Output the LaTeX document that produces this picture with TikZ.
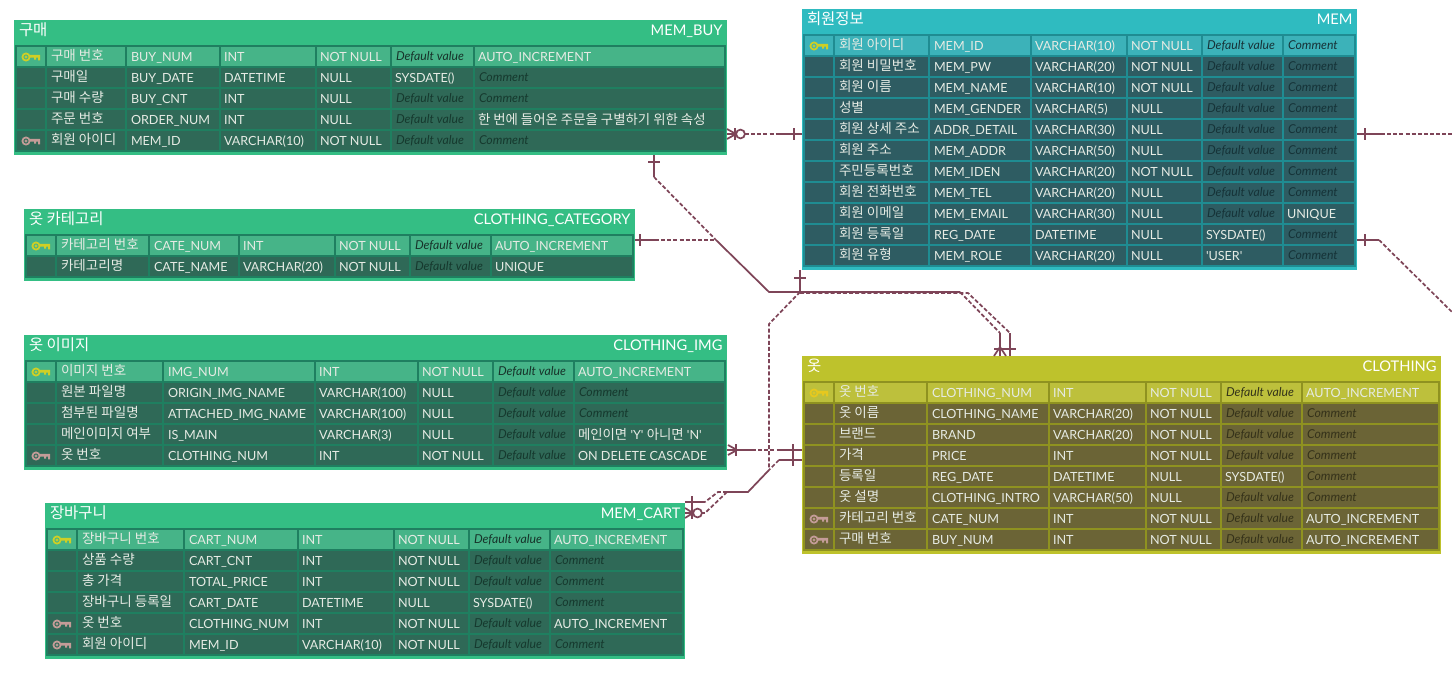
\documentclass[tikz,border=0pt]{standalone}
\usepackage{fontspec}
\setmainfont{Lato}
\newfontfamily\kr{Noto Sans CJK KR}
\usetikzlibrary{calc}
\definecolor{rel}{HTML}{7E4558}
\newcounter{cellno}
\newcommand{\krc}{\kr\fontsize{10.05}{11}\selectfont}
\tikzset{
  celltxt/.style={inner sep=0pt,outer sep=0pt,anchor=base west,text=celltext,font=\fontsize{9.45}{11}\selectfont},
  krtxt/.style={inner sep=0pt,outer sep=0pt,anchor=base west,text=celltext,font=\kr\fontsize{10.15}{11}\selectfont},
  hint/.style={inner sep=0pt,outer sep=0pt,anchor=base west,font=\itshape\fontsize{9.2}{11}\selectfont},
  titleL/.style={inner sep=0pt,outer sep=0pt,anchor=base west,text=white,font=\kr\fontsize{11.6}{12}\selectfont},
  titleR/.style={inner sep=0pt,outer sep=0pt,anchor=base east,text=white,font=\fontsize{11}{12}\selectfont},
  rl/.style={draw=rel,line width=1.3pt},
  rd/.style={draw=rel,line width=1.3pt,dash pattern=on 3pt off 1.6pt},
}
% palette: title, gridline, row, pk row, hint text
\newcommand{\palette}[5]{%
  \definecolor{ctitle}{HTML}{#1}\definecolor{cgrid}{HTML}{#2}\definecolor{crow}{HTML}{#3}%
  \definecolor{cpk}{HTML}{#4}\definecolor{chint}{HTML}{#5}\definecolor{celltext}{HTML}{E6EBE4}}
% outer table: name, x0, y0, x1, y1, korean title, physical title
\newcommand{\etable}[7]{%
  \fill[ctitle] (#2,#3) rectangle (#4,#5);
  \path (#2,#3) -- (#4,#5) node[midway,inner sep=0pt,outer sep=0pt,minimum width=#4*0.75pt-#2*0.75pt,minimum height=#5*0.75pt-#3*0.75pt] (#1) {};
  \node[titleL] (#1title) at (#2+5,#3+15) {#6};
  \node[titleR] (#1phys) at (#4-4.5,#3+15) {#7};
}
\newcommand{\setcols}[8]{\def\La{#1}\def\Lb{#2}\def\Lc{#3}\def\Ld{#4}\def\Le{#5}\def\Lf{#6}\def\Lg{#7}\def\Lend{#8}}
\newcommand{\cellbg}[4]{\fill[#1] (#2,#4-9.5) rectangle (#3,#4+9.5);}
\newcommand{\keyicon}[3]{% x,y,color
  \begin{scope}[shift={(#1,#2)}]
    \draw[#3,line width=1.3pt] (-4,0) circle[radius=2.7pt];
    \draw[#3,line width=.5pt] (-4,0) circle[radius=.9pt];
    \fill[#3] (0,-2.2) -- (10,-2.2) -- (10,3.4) -- (8,3.4) -- (8,0.6) -- (6,0.6) -- (6,2.6) -- (4,2.6) -- (4,0.6) -- (0,0.6) -- cycle;
  \end{scope}}
% y, key(0 none, 1 pk, 2 fk), name, phys, type, null, default, comment
\newcommand{\erow}[8]{%
  \ifnum#2=1 \colorlet{cur}{cpk}\else\colorlet{cur}{crow}\fi
  \fill[cgrid] (\La-2,#1-11.5) rectangle (\Lend+2,#1+11.5);
  \pgfmathsetmacro\RA{\Lb-2}\pgfmathsetmacro\RB{\Lc-2}\pgfmathsetmacro\RC{\Ld-2}\pgfmathsetmacro\RD{\Le-2}\pgfmathsetmacro\RE{\Lf-2}\pgfmathsetmacro\RF{\Lg-2}
  \cellbg{cur}{\La}{\RA}{#1}\cellbg{cur}{\Lb}{\RB}{#1}\cellbg{cur}{\Lc}{\RC}{#1}\cellbg{cur}{\Ld}{\RD}{#1}\cellbg{cur}{\Le}{\RE}{#1}\cellbg{cur}{\Lf}{\RF}{#1}\cellbg{cur}{\Lg}{\Lend}{#1}
  \ifnum#2=1 \keyicon{\La+13}{#1+.5}{keypk}\fi
  \ifnum#2=2 \keyicon{\La+13}{#1+.5}{keyfk}\fi
  \stepcounter{cellno}\node[krtxt] (cell\thecellno) at (\Lb+4,#1+3.5) {#3};
  \stepcounter{cellno}\node[celltxt] (cell\thecellno) at (\Lc+4,#1+4.5) {#4};
  \stepcounter{cellno}\node[celltxt] (cell\thecellno) at (\Ld+3,#1+4.5) {#5};
  \stepcounter{cellno}\node[celltxt] (cell\thecellno) at (\Le+3,#1+4.5) {#6};
  \def\tmp{#7}\stepcounter{cellno}%
  \ifx\tmp\empty
    \ifnum#2=1 \node[hint,text=hintpk] (cell\thecellno) at (\Lf+4,#1+3.5) {Default value};
    \else \node[hint,text=chint] (cell\thecellno) at (\Lf+4,#1+3.5) {Default value};\fi
  \else \node[celltxt] (cell\thecellno) at (\Lf+3,#1+4.5) {#7};\fi
  \def\tmp{#8}\stepcounter{cellno}%
  \ifx\tmp\empty
    \ifnum#2=1 \node[hint,text=hintpk] (cell\thecellno) at (\Lg+4,#1+3.5) {Comment};
    \else \node[hint,text=chint] (cell\thecellno) at (\Lg+4,#1+3.5) {Comment};\fi
  \else \node[celltxt] (cell\thecellno) at (\Lg+3,#1+4.5) {#8};\fi
}
\newcommand{\vbarr}[2]{\draw[rl] (#1,#2-6) -- (#1,#2+6);}
\newcommand{\hbarr}[2]{\draw[rl] (#1-6,#2) -- (#1+6,#2);}
\begin{document}
\begin{tikzpicture}[x=0.75pt,y=-0.75pt]
\useasboundingbox (0,0) rectangle (1452,675);
\fill[white] (0,0) rectangle (1452,675);
\definecolor{keypk}{HTML}{CFCF25}
\definecolor{keyfk}{HTML}{C49C98}
\definecolor{hintpk}{HTML}{17332A}

% ---- green tables
\palette{34BE84}{1F7F60}{2F6957}{46B488}{16392E}
\etable{buy}{14}{20}{727}{155}{구매}{MEM\_BUY}
\setcols{17}{47}{127}{221}{317}{392}{475}{724}
\erow{56.5}{1}{구매 번호}{BUY\_NUM}{INT}{NOT NULL}{}{AUTO\_INCREMENT}
\erow{77.5}{0}{구매일}{BUY\_DATE}{DATETIME}{NULL}{SYSDATE()}{}
\erow{98.5}{0}{구매 수량}{BUY\_CNT}{INT}{NULL}{}{}
\erow{119.5}{0}{주문 번호}{ORDER\_NUM}{INT}{NULL}{}{{\krc 한 번에 들어온 주문을 구별하기 위한 속성}}
\erow{140.5}{2}{회원 아이디}{MEM\_ID}{VARCHAR(10)}{NOT NULL}{}{}

\etable{cat}{24}{209}{635}{281}{옷 카테고리}{CLOTHING\_CATEGORY\hspace{1.8pt}}
\setcols{27}{57}{150}{240}{336}{411}{492}{632}
\erow{245.5}{1}{카테고리 번호}{CATE\_NUM}{INT}{NOT NULL}{}{AUTO\_INCREMENT}
\erow{266.5}{0}{카테고리명}{CATE\_NAME}{VARCHAR(20)}{NOT NULL}{}{UNIQUE}

\etable{img}{24}{335}{727}{470}{옷 이미지}{CLOTHING\_IMG}
\setcols{27}{57}{164}{316}{419}{494}{575}{724}
\erow{371.5}{1}{이미지 번호}{IMG\_NUM}{INT}{NOT NULL}{}{AUTO\_INCREMENT}
\erow{392.5}{0}{원본 파일명}{ORIGIN\_IMG\_NAME}{VARCHAR(100)}{NULL}{}{}
\erow{413.5}{0}{첨부된 파일명}{ATTACHED\_IMG\_NAME}{VARCHAR(100)}{NULL}{}{}
\erow{434.5}{0}{메인이미지 여부}{IS\_MAIN}{VARCHAR(3)}{NULL}{}{{\krc 메인이면} \textquotesingle Y\textquotesingle{} {\krc 아니면} \textquotesingle N\textquotesingle}
\erow{455.5}{2}{옷 번호}{CLOTHING\_NUM}{INT}{NOT NULL}{}{ON DELETE CASCADE}

\etable{cart}{45}{503}{685}{659}{장바구니}{MEM\_CART}
\setcols{48}{78}{185}{299}{395}{470}{551}{682}
\erow{539.5}{1}{장바구니 번호}{CART\_NUM}{INT}{NOT NULL}{}{AUTO\_INCREMENT}
\erow{560.5}{0}{상품 수량}{CART\_CNT}{INT}{NOT NULL}{}{}
\erow{581.5}{0}{총 가격}{TOTAL\_PRICE}{INT}{NOT NULL}{}{}
\erow{602.5}{0}{장바구니 등록일}{CART\_DATE}{DATETIME}{NULL}{SYSDATE()}{}
\erow{623.5}{2}{옷 번호}{CLOTHING\_NUM}{INT}{NOT NULL}{}{AUTO\_INCREMENT}
\erow{644.5}{2}{회원 아이디}{MEM\_ID}{VARCHAR(10)}{NOT NULL}{}{}

% ---- teal table
\definecolor{hintpk}{HTML}{173338}
\palette{2FBBC0}{1F8C92}{2E5C62}{3CB2B9}{163338}
\etable{mem}{802}{9}{1357}{270}{회원정보}{MEM}
\setcols{805}{835}{930}{1032}{1128}{1203}{1284}{1354}
\erow{45.5}{1}{회원 아이디}{MEM\_ID}{VARCHAR(10)}{NOT NULL}{}{}
\erow{66.5}{0}{회원 비밀번호}{MEM\_PW}{VARCHAR(20)}{NOT NULL}{}{}
\erow{87.5}{0}{회원 이름}{MEM\_NAME}{VARCHAR(10)}{NOT NULL}{}{}
\erow{108.5}{0}{성별}{MEM\_GENDER}{VARCHAR(5)}{NULL}{}{}
\erow{129.5}{0}{회원 상세 주소}{ADDR\_DETAIL}{VARCHAR(30)}{NULL}{}{}
\erow{150.5}{0}{회원 주소}{MEM\_ADDR}{VARCHAR(50)}{NULL}{}{}
\erow{171.5}{0}{주민등록번호}{MEM\_IDEN}{VARCHAR(20)}{NOT NULL}{}{}
\erow{192.5}{0}{회원 전화번호}{MEM\_TEL}{VARCHAR(20)}{NULL}{}{}
\erow{213.5}{0}{회원 이메일}{MEM\_EMAIL}{VARCHAR(30)}{NULL}{}{UNIQUE}
\erow{234.5}{0}{회원 등록일}{REG\_DATE}{DATETIME}{NULL}{SYSDATE()}{}
\erow{255.5}{0}{회원 유형}{MEM\_ROLE}{VARCHAR(20)}{NULL}{\textquotesingle USER\textquotesingle}{}

% ---- olive table
\definecolor{hintpk}{HTML}{33331A}
\definecolor{keypk}{HTML}{E6C81E}
\palette{BEC22C}{8F9220}{6B6436}{BDC03C}{35321A}
\etable{clo}{802}{356}{1441}{554}{옷}{CLOTHING}
\setcols{805}{835}{928}{1050}{1147}{1222}{1303}{1438}
\erow{392.5}{1}{옷 번호}{CLOTHING\_NUM}{INT}{NOT NULL}{}{AUTO\_INCREMENT}
\erow{413.5}{0}{옷 이름}{CLOTHING\_NAME}{VARCHAR(20)}{NOT NULL}{}{}
\erow{434.5}{0}{브랜드}{BRAND}{VARCHAR(20)}{NOT NULL}{}{}
\erow{455.5}{0}{가격}{PRICE}{INT}{NOT NULL}{}{}
\erow{476.5}{0}{등록일}{REG\_DATE}{DATETIME}{NULL}{SYSDATE()}{}
\erow{497.5}{0}{옷 설명}{CLOTHING\_INTRO}{VARCHAR(50)}{NULL}{}{}
\erow{518.5}{2}{카테고리 번호}{CATE\_NUM}{INT}{NOT NULL}{}{AUTO\_INCREMENT}
\erow{539.5}{2}{구매 번호}{BUY\_NUM}{INT}{NOT NULL}{}{AUTO\_INCREMENT}

% ---- connector ends
\path (buy.east |- 0,134) coordinate (buyR);
\path (mem.west |- 0,134) coordinate (memL);
\path (buy.south -| 654,0) coordinate (buyB);
\path (cat.east |- 0,240) coordinate (catR);
\path (mem.south -| 800,0) coordinate (memB);
\path (clo.north -| 1000,0) coordinate (cloA);
\path (clo.north -| 1010,0) coordinate (cloB);
\path (img.east |- 0,450) coordinate (imgR);
\path (clo.west |- 0,450) coordinate (cloC);
\path (clo.west |- 0,460) coordinate (cloD);
\path (cart.east |- 0,502) coordinate (cartA);
\path (cart.east |- 0,513) coordinate (cartB);
\path (mem.east |- 0,134) coordinate (memRa);
\path (mem.east |- 0,240) coordinate (memRb);
\coordinate (offA) at (1452,134);
\coordinate (offB) at (1452,312);

% MEM_BUY -- MEM
\draw[rl] (buyR) -- (745,134);
\draw[rd] (745,134) -- (780,134);
\draw[rl] (780,134) -- (memL);
\draw[rl] (727,129) -- (736,134) -- (727,139);
\vbarr{735}{134}
\draw[rl,fill=white] (740.5,134) circle[radius=3.3pt];
\vbarr{794}{134}

% MEM_BUY -- CLOTHING
\draw[rl] (buyB) -- (654,177);
\hbarr{654}{162}
\draw[rd] (654,177) -- (716,240);
\draw[rl] (716,240) -- (769,292) -- (960,292);
\draw[rd] (960,292) -- (1000,333);
\draw[rl] (1000,333) -- (cloA);
\hbarr{1000}{349}
\draw[rl] (994,356) -- (1000,347) -- (1006,356);

% CATEGORY -- joined
\draw[rl] (catR) -- (655,240);
\draw[rd] (655,240) -- (716,240);
\vbarr{640}{240}

% MEM -- CLOTHING (second)
\draw[rl] (memB) -- (800,292);
\hbarr{800}{278}
\draw[rd] (800,293) -- (968,293) -- (1010,333);
\draw[rl] (1010,333) -- (cloB);
\hbarr{1010}{349}

% MEM -- MEM_CART
\draw[rd] (800,292) -- (769,324) -- (769,470);

% IMG -- CLOTHING
\draw[rl] (imgR) -- (752,450);
\draw[rd] (752,450) -- (780,450);
\draw[rl] (780,450) -- (cloC);
\draw[rl] (728,445) -- (737,450) -- (728,455);
\vbarr{736}{450}
\vbarr{793}{450}

% CLOTHING -- MEM_CART
\draw[rl] (cloD) -- (779,460);
\vbarr{793}{460}
\draw[rd] (779,460) -- (769,470);
\draw[rl] (769,470) -- (748,492) -- (727,492);
\draw[rd] (727,492) -- (718,492) -- (705,502);
\draw[rl] (705,502) -- (cartA);
\vbarr{692}{502}
\draw[rd] (727,492) -- (705,513);
\draw[rl] (705,513) -- (cartB);
\draw[rl] (685,508) -- (693,513) -- (685,518);
\vbarr{692}{513}
\draw[rl,fill=white] (697.5,513) circle[radius=3.3pt];

% MEM right, off-canvas
\draw[rl] (memRa) -- (1381,134);
\draw[rd] (1381,134) -- (offA);
\vbarr{1365}{134}
\draw[rl] (memRb) -- (1379,240);
\draw[rd] (1379,240) -- (offB);
\vbarr{1365}{240}
\end{tikzpicture}
\end{document}
